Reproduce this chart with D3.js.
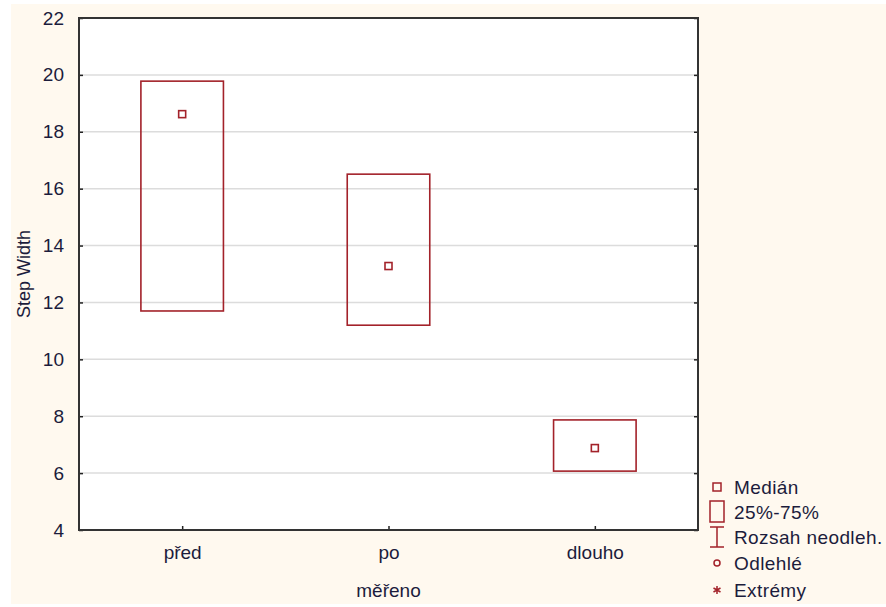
<!DOCTYPE html>
<html>
<head>
<meta charset="utf-8">
<script src="https://cdn.jsdelivr.net/npm/d3@7"></script>
<style>
  body { margin: 0; background: #fff; }
  text { font-family: "Liberation Sans", Arial, sans-serif; fill: #1c1c3c; }
</style>
</head>
<body>
<div id="chart"></div>
<script>
// box data
var categories = ['před', 'po', 'dlouho'];
var q1 = [11.7, 11.2, 6.07];
var q3 = [19.78, 16.51, 7.87];
var medians = [18.62, 13.28, 6.88];
var yTicks = [4, 6, 8, 10, 12, 14, 16, 18, 20, 22];
var legendItems = ['Medián', '25%-75%', 'Rozsah neodleh.', 'Odlehlé', 'Extrémy'];

var width = 886, height = 607;
var m = { left: 79, top: 18, right: 698, bottom: 530 };
var boxColor = '#a3222a';
var fs = '19px';

var svg = d3.select('#chart').append('svg')
  .attr('width', width)
  .attr('height', height);

svg.append('rect')
  .attr('x', 11).attr('y', 4)
  .attr('width', width - 11).attr('height', 600)
  .attr('fill', '#fff9ef');

svg.append('rect')
  .attr('x', m.left).attr('y', m.top)
  .attr('width', m.right - m.left).attr('height', m.bottom - m.top)
  .attr('fill', '#fff');

var x = d3.scalePoint().domain(categories).range([m.left, m.right]).padding(0.5);
var y = d3.scaleLinear().domain([4, 22]).range([m.bottom, m.top]);
var boxW = x.step() * 0.4;

// grid
svg.append('g').selectAll('line')
  .data(yTicks.slice(1, -1))
  .enter().append('line')
  .attr('x1', m.left).attr('x2', m.right)
  .attr('y1', function (d) { return y(d); })
  .attr('y2', function (d) { return y(d); })
  .attr('stroke', '#dcdcdc')
  .attr('stroke-width', 1.5);

// boxes
var boxes = svg.append('g');
categories.forEach(function (c, i) {
  boxes.append('rect')
    .attr('x', x(c) - boxW / 2)
    .attr('y', y(q3[i]))
    .attr('width', boxW)
    .attr('height', y(q1[i]) - y(q3[i]))
    .attr('fill', 'none')
    .attr('stroke', boxColor)
    .attr('stroke-width', 1.6);
  boxes.append('rect')
    .attr('x', x(c) - 3.5)
    .attr('y', y(medians[i]) - 3.5)
    .attr('width', 7).attr('height', 7)
    .attr('fill', '#fff')
    .attr('stroke', boxColor)
    .attr('stroke-width', 1.6);
});

// axes
var yAxis = svg.append('g')
  .attr('transform', 'translate(' + m.left + ',0)')
  .call(d3.axisLeft(y).tickValues(yTicks).tickSize(-4).tickPadding(15));
yAxis.select('.domain').remove();
yAxis.selectAll('text').style('font-size', fs);
yAxis.selectAll('line').attr('stroke', '#222').attr('stroke-width', 1.5);

var yAxisR = svg.append('g')
  .attr('transform', 'translate(' + m.right + ',0)')
  .call(d3.axisRight(y).tickValues(yTicks).tickSize(-4).tickFormat(''));
yAxisR.select('.domain').remove();
yAxisR.selectAll('line').attr('stroke', '#222').attr('stroke-width', 1.5);

var xAxis = svg.append('g')
  .attr('transform', 'translate(0,' + m.bottom + ')')
  .call(d3.axisBottom(x).tickSize(-4).tickPadding(16));
xAxis.select('.domain').remove();
xAxis.selectAll('text').style('font-size', fs);
xAxis.selectAll('line').attr('stroke', '#222').attr('stroke-width', 1.5);

// frame
svg.append('rect')
  .attr('x', m.left).attr('y', m.top)
  .attr('width', m.right - m.left).attr('height', m.bottom - m.top)
  .attr('fill', 'none')
  .attr('stroke', '#333')
  .attr('stroke-width', 2);

// axis titles
svg.append('text')
  .attr('transform', 'translate(30,' + ((m.top + m.bottom) / 2) + ') rotate(-90)')
  .attr('text-anchor', 'middle')
  .style('font-size', '18px')
  .text('Step Width');

svg.append('text')
  .attr('x', (m.left + m.right) / 2)
  .attr('y', 597)
  .attr('text-anchor', 'middle')
  .style('font-size', fs)
  .text('měřeno');

// legend
var lg = svg.append('g');
var rowY = [487, 512, 537, 563, 590];
legendItems.forEach(function (t, i) {
  lg.append('text')
    .attr('x', 734).attr('y', rowY[i] + 7)
    .style('font-size', fs)
    .style('letter-spacing', '0.4px')
    .text(t);
});
lg.append('rect').attr('x', 713).attr('y', rowY[0] - 4).attr('width', 8).attr('height', 8)
  .attr('fill', 'none').attr('stroke', boxColor).attr('stroke-width', 1.5);
lg.append('rect').attr('x', 710).attr('y', rowY[1] - 11).attr('width', 14).attr('height', 21)
  .attr('fill', 'none').attr('stroke', boxColor).attr('stroke-width', 1.5);
lg.append('path')
  .attr('d', 'M710,' + (rowY[2] - 10) + 'H724M717,' + (rowY[2] - 10) + 'V' + (rowY[2] + 10) + 'M710,' + (rowY[2] + 10) + 'H724')
  .attr('fill', 'none').attr('stroke', boxColor).attr('stroke-width', 1.5);
lg.append('circle').attr('cx', 717).attr('cy', rowY[3]).attr('r', 3)
  .attr('fill', 'none').attr('stroke', boxColor).attr('stroke-width', 1.5);
// asterisk drawn as three crossing strokes
lg.append('path')
  .attr('d', 'M717,' + (rowY[4] - 4) + 'V' + (rowY[4] + 4) +
    'M713.5,' + (rowY[4] - 2) + 'L720.5,' + (rowY[4] + 2) +
    'M713.5,' + (rowY[4] + 2) + 'L720.5,' + (rowY[4] - 2))
  .attr('fill', 'none').attr('stroke', boxColor).attr('stroke-width', 1.5);
</script>
</body>
</html>
